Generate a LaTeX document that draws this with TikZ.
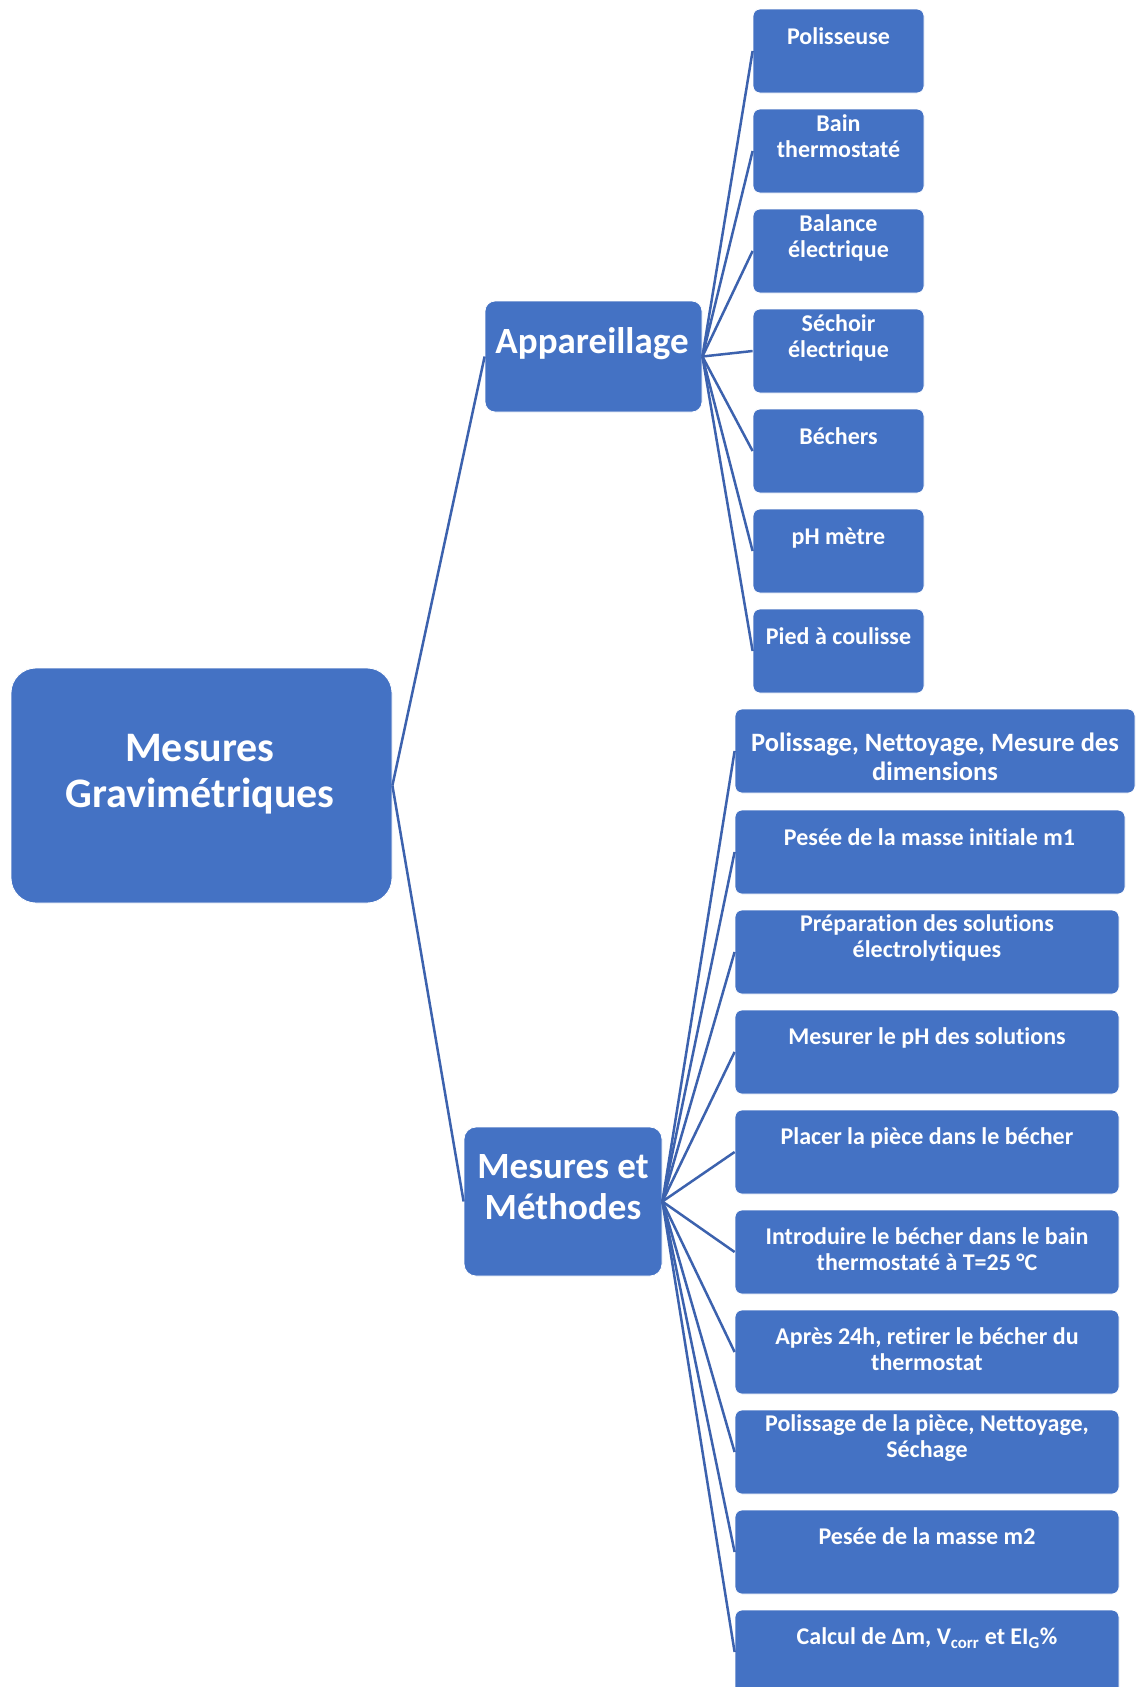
\documentclass[tikz,border=0pt]{standalone}
\usepackage{fontspec}
\setmainfont{Carlito}[RawFeature={-liga;-clig;-calt;-dlig}]
\definecolor{accent}{HTML}{4472C4}
\definecolor{linec}{HTML}{3C62AE}
\newcommand{\tb}[1]{\begin{tabular}[t]{@{}c@{}}#1\end{tabular}}
\begin{document}
\begin{tikzpicture}[x=1pt,y=-1pt,
  box/.style={fill=accent, draw=white, line width=0.8pt, inner sep=0pt},
  leaf/.style={box, rounded corners=7pt, minimum height=84pt},
  conn/.style={draw=linec, line width=2.5pt},
  txt/.style={text=white, inner sep=0pt, anchor=base},
  small/.style={txt, font=\fontsize{24}{26.4}\selectfont\bfseries}]
\useasboundingbox (0,0) rectangle (1136,1687);
\clip (0,0) rectangle (1136,1687);
\fill[white] (0,0) rectangle (1136,1687);

% main boxes
\node[box, rounded corners=25pt, minimum width=381pt, minimum height=235pt] (main) at (201.5,785.5) {};
\node[box, rounded corners=10pt, minimum width=217pt, minimum height=111pt] (app) at (593.5,356.5) {};
\node[box, rounded corners=12pt, minimum width=198pt, minimum height=149pt] (mem) at (563,1201.5) {};

% appareillage leaves
\node[leaf, minimum width=171pt] (a1) at (838.5,51) {};
\node[leaf, minimum width=171pt] (a2) at (838.5,151) {};
\node[leaf, minimum width=171pt] (a3) at (838.5,251) {};
\node[leaf, minimum width=171pt] (a4) at (838.5,351) {};
\node[leaf, minimum width=171pt] (a5) at (838.5,451) {};
\node[leaf, minimum width=171pt] (a6) at (838.5,551) {};
\node[leaf, minimum width=171pt] (a7) at (838.5,651) {};

% methods leaves
\node[leaf, minimum width=400pt] (m1) at (935,751) {};
\node[leaf, minimum width=390pt] (m2) at (930,852) {};
\node[leaf, minimum width=384pt] (m3) at (927,952) {};
\node[leaf, minimum width=384pt] (m4) at (927,1052) {};
\node[leaf, minimum width=384pt] (m5) at (927,1152) {};
\node[leaf, minimum width=384pt] (m6) at (927,1252) {};
\node[leaf, minimum width=384pt] (m7) at (927,1352) {};
\node[leaf, minimum width=384pt] (m8) at (927,1452) {};
\node[leaf, minimum width=384pt] (m9) at (927,1552) {};
\node[leaf, minimum width=384pt] (m10) at (927,1652) {};

% connectors
\draw[conn] (main.east) -- (app.west);
\draw[conn] (main.east) -- (mem.west);
\foreach \i in {1,...,7} \draw[conn] (app.east) -- (a\i.west);
\foreach \i in {1,...,10} \draw[conn] (mem.east) -- (m\i.west);

% texts
\node[txt, font=\fontsize{42}{46.3}\selectfont\bfseries] (tmain) at (200,761) {\tb{Mesures\\Gravimétriques}};
\node[txt, font=\fontsize{37}{40.7}\selectfont\bfseries] (tapp) at (592,353) {\tb{Appareillage}};
\node[txt, font=\fontsize{37}{41}\selectfont\bfseries] (tmem) at (563,1178) {\tb{Mesures et\\Méthodes}};

\node[small] (ta1) at (838.5,44.5) {\tb{Polisseuse}};
\node[small] (ta2) at (838.5,131) {\tb{Bain\\thermostaté}};
\node[small] (ta3) at (838.5,231) {\tb{Balance\\électrique}};
\node[small] (ta4) at (838.5,331) {\tb{Séchoir\\électrique}};
\node[small] (ta5) at (838.5,444.5) {\tb{Béchers}};
\node[small] (ta6) at (838.5,544.5) {\tb{pH mètre}};
\node[small] (ta7) at (838.5,644.5) {\tb{Pied à coulisse}};

\node[txt, font=\fontsize{26.5}{29.2}\selectfont\bfseries] (tm1) at (935,751) {\tb{Polissage, Nettoyage, Mesure des\\dimensions}};
\node[small] (tm2) at (929.5,845) {\tb{Pesée de la masse initiale m1}};
\node[small] (tm3) at (927,931.5) {\tb{Préparation des solutions\\électrolytiques}};
\node[small] (tm4) at (927,1044.5) {\tb{Mesurer le pH des solutions}};
\node[small] (tm5) at (927,1144.5) {\tb{Placer la pièce dans le bécher}};
\node[small] (tm6) at (927,1244.5) {\tb{Introduire le bécher dans le bain\\thermostaté à T=25 °C}};
\node[small] (tm7) at (927,1344.5) {\tb{Après 24h, retirer le bécher du\\thermostat}};
\node[small] (tm8) at (927,1431.5) {\tb{Polissage de la pièce, Nettoyage,\\Séchage}};
\node[small] (tm9) at (927,1544.5) {\tb{Pesée de la masse m2}};
\node[small] (tm10) at (927,1644.5) {\tb{Calcul de Δm, V\textsubscript{corr} et EI\textsubscript{G}\%}};
\end{tikzpicture}
\end{document}
